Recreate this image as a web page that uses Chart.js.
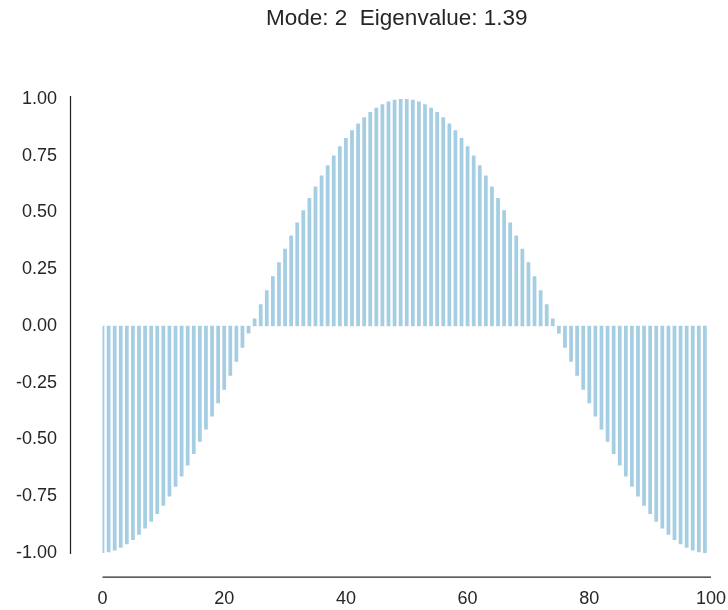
<!DOCTYPE html>
<html>
<head>
<meta charset="utf-8">
<script src="https://cdn.jsdelivr.net/npm/chart.js@4"></script>
<style>
    html, body { margin: 0; padding: 0; background: #ffffff; }
    #wrap { width: 728px; height: 610px; }
</style>
</head>
<body>
<div id="wrap"><canvas id="modeChart" width="728" height="610"></canvas></div>
<script>
// Mode shape, one bar per grid point
const positions = [
    0, 1, 2, 3, 4, 5, 6, 7, 8, 9,
    10, 11, 12, 13, 14, 15, 16, 17, 18, 19,
    20, 21, 22, 23, 24, 25, 26, 27, 28, 29,
    30, 31, 32, 33, 34, 35, 36, 37, 38, 39,
    40, 41, 42, 43, 44, 45, 46, 47, 48, 49,
    50, 51, 52, 53, 54, 55, 56, 57, 58, 59,
    60, 61, 62, 63, 64, 65, 66, 67, 68, 69,
    70, 71, 72, 73, 74, 75, 76, 77, 78, 79,
    80, 81, 82, 83, 84, 85, 86, 87, 88, 89,
    90, 91, 92, 93, 94, 95, 96, 97, 98, 99
];
const modeValues = [
    -0.9995, -0.9956, -0.9877, -0.9759, -0.9603, -0.9409, -0.9178, -0.8910, -0.8607, -0.8271,
    -0.7902, -0.7501, -0.7071, -0.6613, -0.6129, -0.5621, -0.5090, -0.4540, -0.3971, -0.3387,
    -0.2790, -0.2181, -0.1564, -0.0941, -0.0314, 0.0314, 0.0941, 0.1564, 0.2181, 0.2790,
    0.3387, 0.3971, 0.4540, 0.5090, 0.5621, 0.6129, 0.6613, 0.7071, 0.7501, 0.7902,
    0.8271, 0.8607, 0.8910, 0.9178, 0.9409, 0.9603, 0.9759, 0.9877, 0.9956, 0.9995,
    0.9995, 0.9956, 0.9877, 0.9759, 0.9603, 0.9409, 0.9178, 0.8910, 0.8607, 0.8271,
    0.7902, 0.7501, 0.7071, 0.6613, 0.6129, 0.5621, 0.5090, 0.4540, 0.3971, 0.3387,
    0.2790, 0.2181, 0.1564, 0.0941, 0.0314, -0.0314, -0.0941, -0.1564, -0.2181, -0.2790,
    -0.3387, -0.3971, -0.4540, -0.5090, -0.5621, -0.6129, -0.6613, -0.7071, -0.7501, -0.7902,
    -0.8271, -0.8607, -0.8910, -0.9178, -0.9409, -0.9603, -0.9759, -0.9877, -0.9956, -0.9995
];
const xTicks = [0, 20, 40, 60, 80, 100];
const yTicks = [-1.0, -0.75, -0.5, -0.25, 0.0, 0.25, 0.5, 0.75, 1.0];
const titleText = 'Mode: 2  Eigenvalue: 1.39';

const FONT = '"Liberation Sans", Arial, sans-serif';
const INK = '#262626';

// Offset spines (despined look) plus the title
const spinesAndTitle = {
    id: 'spinesAndTitle',
    afterDraw(chart) {
        const { ctx, chartArea, scales: { x, y } } = chart;
        const yTop = y.getPixelForValue(yTicks[yTicks.length - 1]);
        const yBot = y.getPixelForValue(yTicks[0]);
        const xL = x.getPixelForValue(xTicks[0]);
        const xR = x.getPixelForValue(xTicks[xTicks.length - 1]);
        ctx.save();
        ctx.strokeStyle = INK;
        ctx.lineWidth = 1.25;
        ctx.beginPath();
        ctx.moveTo(xL - 32, yTop - 3);
        ctx.lineTo(xL - 32, yBot + 1);
        ctx.stroke();
        ctx.beginPath();
        ctx.moveTo(xL, yBot + 24);
        ctx.lineTo(xR, yBot + 24);
        ctx.stroke();

        ctx.fillStyle = INK;
        ctx.font = '22.5px ' + FONT;
        ctx.textAlign = 'center';
        ctx.textBaseline = 'alphabetic';
        ctx.fillText(titleText, (chartArea.left + chartArea.right) / 2 - 10, 25);
        ctx.restore();
    }
};

new Chart(document.getElementById('modeChart'), {
    type: 'bar',
    data: {
        datasets: [{
            data: modeValues.map((v, i) => ({ x: positions[i], y: v })),
            backgroundColor: '#a6cee3',
            borderWidth: 0,
            barThickness: 3.1
        }]
    },
    options: {
        responsive: false,
        animation: false,
        devicePixelRatio: 1,
        layout: { padding: { top: 99, right: 17, left: 0, bottom: 0 } },
        plugins: { legend: { display: false }, tooltip: { enabled: false } },
        scales: {
            x: {
                type: 'linear',
                min: 0,
                max: 100,
                offset: false,
                grid: { display: false, drawTicks: false },
                border: { display: false },
                afterBuildTicks: (axis) => { axis.ticks = xTicks.map(v => ({ value: v })); },
                afterFit: (axis) => {
                    axis.height = 57;
                    // tick padding is vertical here, keep it out of the side padding
                    axis.paddingLeft = 0;
                    axis.paddingRight = 0;
                },
                ticks: {
                    padding: 35,
                    maxRotation: 0,
                    color: INK,
                    font: { family: FONT, size: 18 },
                    callback: (v) => String(v)
                }
            },
            y: {
                min: -1.0,
                max: 1.0,
                grid: { display: false, drawTicks: false },
                border: { display: false },
                afterBuildTicks: (axis) => { axis.ticks = yTicks.map(v => ({ value: v })); },
                afterFit: (axis) => {
                    axis.width = 102.5;
                    axis.paddingTop = 0;
                    axis.paddingBottom = 0;
                },
                ticks: {
                    padding: 45.5,
                    color: INK,
                    font: { family: FONT, size: 18 },
                    callback: (v) => Number(v).toFixed(2)
                }
            }
        }
    },
    plugins: [spinesAndTitle]
});
</script>
</body>
</html>
